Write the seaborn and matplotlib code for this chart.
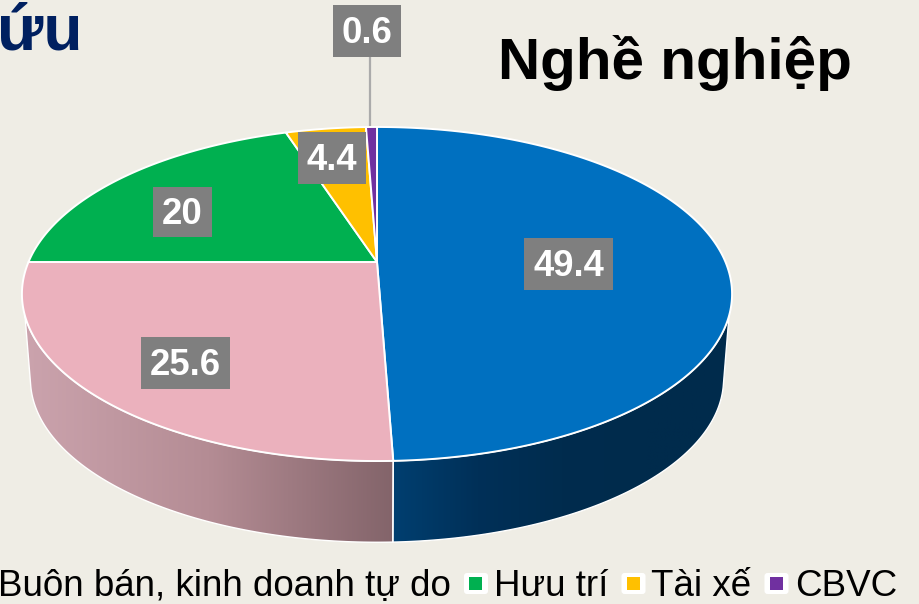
import numpy as np
import matplotlib
matplotlib.use("Agg")
import matplotlib.pyplot as plt
import seaborn as sns
from matplotlib.patches import Polygon, Rectangle, FancyBboxPatch

# Data
categories = ["Buôn bán, kinh doanh tự do", "Hưu trí", "Tài xế", "CBVC"]
values = [49.4, 25.6, 20, 4.4, 0.6]
colors = ["#0070C0", "#EBB1BD", "#00B050", "#FFC000", "#7030A0"]

BG = "#EFEDE5"
sns.set_theme(style="white")
plt.rcParams["font.family"] = ["Liberation Sans", "DejaVu Sans"]

fig = plt.figure(figsize=(9.2, 6.04), dpi=100, facecolor=BG)
ax = fig.add_axes([0, 0, 1, 1])
ax.set_facecolor(BG)
ax.axis("off")

# pie geometry, perspective tilted disc (pixels)
CX, CY = 377, 262
RX, RY, K = 348.5, 160.9, 0.1916
BOT_CY, BOT_S = 348, 0.976


def disc(theta_deg, cy=CY, s=1.0):
    t = np.radians(theta_deg)
    u, v = np.sin(t), np.cos(t)
    w = 1 + K * v
    return np.column_stack([CX + s * RX * u / w, cy - s * RY * v / w])


edges = np.concatenate([[0], np.cumsum(values)]) / sum(values) * 360


def wall(top_a, top_b, bot_a, bot_b, pal):
    top = disc(np.linspace(top_a, top_b, 100))
    bot = disc(np.linspace(bot_b, bot_a, 100), BOT_CY, BOT_S)
    poly = Polygon(np.vstack([top, bot]), closed=True, facecolor="none",
                   edgecolor="white", lw=1.0, zorder=2)
    ax.add_patch(poly)
    xs = np.vstack([top, bot])[:, 0]
    ys = np.vstack([top, bot])[:, 1]
    cmap = sns.blend_palette(pal, as_cmap=True)
    im = ax.imshow(np.linspace(0, 1, 256)[None, :], cmap=cmap, aspect="auto",
                   extent=[xs.min(), xs.max(), ys.max(), ys.min()], zorder=1)
    im.set_clip_path(poly)


# side walls: only the front slices show depth
wall(edges[1], 251.6, edges[1], 257, ["#CBA3AD", "#B48C94", "#83646A"])
wall(108.4, edges[1], 103, edges[1], ["#003F70", "#003058", "#002C4E", "#002B4C", "#002B4C"])

# top face
for a, b, c in zip(edges[:-1], edges[1:], colors):
    arc = disc(np.linspace(a, b, 200))
    pts = np.vstack([[CX, CY], arc])
    ax.add_patch(Polygon(pts, closed=True, facecolor=c, edgecolor="white",
                         lw=1.4, joinstyle="round", zorder=3))

# leader line for the smallest slice
ax.plot([370, 370], [57, 128], color="#ABABAB", lw=1.6, zorder=2.5)

# value labels, centre and box size in pixels
label_boxes = [(568.5, 264, 89, 52), (185.5, 363, 89, 52), (182.5, 212, 59, 50),
               (332, 158, 68, 52), (367, 31, 68, 52)]
for v, (x, y, w, h) in zip(values, label_boxes):
    ax.add_patch(Rectangle((x - w / 2, y - h / 2), w, h, facecolor="#7F7F7F",
                           edgecolor="none", zorder=4))
    ax.text(x, y + 2.5, f"{v:g}", color="white", fontsize=26.3, fontweight="bold",
            ha="center", va="center", zorder=5)

# titles
ax.text(675, 79, "Nghề nghiệp", fontsize=42, fontweight="bold", color="black",
        ha="center", va="baseline", zorder=5)
ax.text(83, 49, "ứu", fontsize=46, fontweight="bold", color="#002060",
        ha="right", va="baseline", zorder=5)

# legend, the first swatch is cut off by the picture edge
legend_x = [-2, 494, 651, 795]
swatch_x = [None, 476, 633.5, 776.5]
swatch_c = [None] + colors[2:]
for name, tx, sx, c in zip(categories, legend_x, swatch_x, swatch_c):
    ax.text(tx, 596, name, fontsize=26.5, color="black", ha="left", va="baseline")
    if sx is None:
        continue
    ax.add_patch(FancyBboxPatch((sx - 9, 576), 18, 15, boxstyle="round,pad=3",
                                facecolor="white", edgecolor="none"))
    ax.add_patch(Rectangle((sx - 6.5, 576.5), 13, 13.5, facecolor=c, edgecolor="none"))

ax.set_xlim(0, 920)
ax.set_ylim(604, 0)
fig.savefig("out.png", dpi=100, facecolor=BG)
